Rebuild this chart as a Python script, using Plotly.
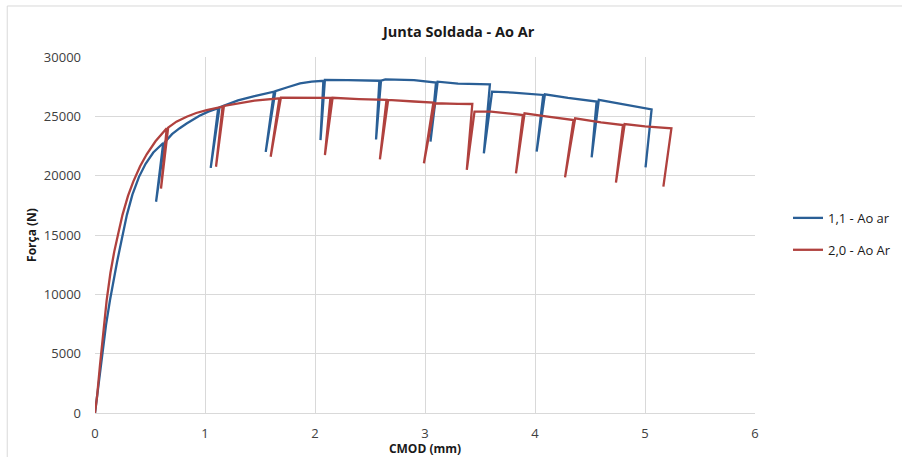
import plotly.graph_objects as go

# CMOD (mm) and Force (N)
blue_x = [0, 0.015, 0.04, 0.07, 0.10, 0.136, 0.17, 0.20, 0.24, 0.29, 0.34, 0.40, 0.46, 0.53, 0.62,
          0.555, 0.632, 0.70, 0.77, 0.833, 0.95, 1.03, 1.12,
          1.052, 1.132, 1.20, 1.30, 1.45, 1.627,
          1.552, 1.64, 1.75, 1.864, 1.97, 2.076,
          2.05, 2.09, 2.30, 2.585,
          2.555, 2.60, 2.64, 2.90, 3.10,
          3.05, 3.115, 3.30, 3.59,
          3.535, 3.61, 3.80, 4.075,
          4.015, 4.09, 4.30, 4.56,
          4.515, 4.58, 4.80, 5.06,
          5.005]
blue_y = [0, 1100, 3200, 5400, 7400, 9500, 11300, 12700, 14500, 16700, 18400, 19900, 21000, 21950, 22750,
          17800, 22800, 23500, 24000, 24400, 25050, 25400, 25680,
          20650, 25750, 26000, 26350, 26700, 27080,
          22000, 27120, 27450, 27780, 27930, 28000,
          23000, 28060, 28050, 28000,
          23050, 28000, 28120, 28050, 27840,
          22870, 27920, 27750, 27700,
          21880, 27080, 27000, 26800,
          22020, 26860, 26550, 26240,
          21550, 26380, 26000, 25590,
          20700]

red_x = [0, 0.02, 0.045, 0.075, 0.106, 0.14, 0.175, 0.212, 0.25, 0.30, 0.348, 0.41, 0.47, 0.55, 0.652,
         0.60, 0.665, 0.74, 0.833, 0.92, 1.015, 1.16,
         1.10, 1.172, 1.28, 1.45, 1.676,
         1.597, 1.69, 1.90, 2.14,
         2.09, 2.16, 2.40, 2.65,
         2.59, 2.665, 2.90, 3.076,
         2.99, 3.09, 3.30, 3.43,
         3.38, 3.45, 3.60, 3.89,
         3.827, 3.905, 4.10, 4.35,
         4.273, 4.365, 4.60, 4.80,
         4.736, 4.815, 5.00, 5.24,
         5.167]
red_y = [0, 1500, 4000, 7000, 9500, 11800, 13600, 15140, 16700, 18300, 19500, 20800, 21800, 22900, 24000,
         18900, 24050, 24550, 24970, 25280, 25530, 25820,
         20750, 25880, 26080, 26330, 26520,
         21600, 26580, 26580, 26560,
         21740, 26560, 26450, 26380,
         21380, 26380, 26250, 26150,
         21040, 26100, 26050, 26040,
         20480, 25400, 25400, 25110,
         20200, 25260, 25000, 24690,
         19860, 24830, 24500, 24270,
         19410, 24350, 24150, 23990,
         19070]

x_ticks = [0, 1, 2, 3, 4, 5, 6]
y_ticks = [0, 5000, 10000, 15000, 20000, 25000, 30000]

FONT = "Open Sans"
fig = go.Figure()
fig.add_trace(go.Scatter(x=blue_x, y=blue_y, mode="lines", name="1,1 - Ao ar",
                         legendgroup="a",
                         line=dict(color="#2A5F96", width=2.3)))
fig.add_trace(go.Scatter(x=red_x, y=red_y, mode="lines", name="2,0 - Ao Ar",
                         legendgroup="b",
                         line=dict(color="#B0413E", width=2.3)))

fig.update_layout(
    width=902, height=457,
    margin=dict(l=95, r=147, t=57, b=44, autoexpand=False),
    paper_bgcolor="white", plot_bgcolor="white",
    font=dict(family=FONT, size=13, color="#404040"),
    title=dict(text="<b>Junta Soldada - Ao Ar</b>", x=0.551, xref="paper", xanchor="center",
               y=0.93, yref="container", yanchor="middle", automargin=False,
               font=dict(family=FONT, size=14.5, color="#1a1a1a")),
    showlegend=True,
    legend=dict(x=1.05, xanchor="left", y=0.503, yanchor="middle",
                traceorder="grouped", tracegroupgap=12,
                font=dict(family=FONT, size=13, color="#1a1a1a"),
                bgcolor="rgba(0,0,0,0)"),
    xaxis=dict(range=[0, 6], tickvals=x_ticks, ticktext=[str(v) for v in x_ticks],
               showgrid=True, gridcolor="#d9d9d9", gridwidth=1, automargin=False,
               showline=True, linecolor="#d9d9d9", linewidth=1, mirror=False,
               zeroline=False, ticks="", ticklabelstandoff=8,
               tickfont=dict(family=FONT, size=13, color="#404040"),
               title=dict(text="<b>CMOD (mm)</b>", standoff=4,
                          font=dict(family=FONT, size=12, color="#1a1a1a"))),
    yaxis=dict(range=[0, 30000], tickvals=y_ticks, ticktext=[str(v) for v in y_ticks],
               showgrid=True, gridcolor="#d9d9d9", gridwidth=1, automargin=False,
               showline=False, zeroline=False, ticks="", ticklabelstandoff=13,
               tickfont=dict(family=FONT, size=13, color="#404040"),
               title=dict(text="<b>Força (N)</b>", standoff=4,
                          font=dict(family=FONT, size=12, color="#1a1a1a"))),
    shapes=[dict(type="rect", xref="paper", yref="paper",
                 x0=-0.133, x1=1.3, y0=-0.3, y1=1.1433,
                 line=dict(color="#d9d9d9", width=1), layer="below")],
)

fig.write_html("out.html", config={"displayModeBar": False},
               post_script="document.body.style.margin='0';document.documentElement.style.overflow='hidden';")
